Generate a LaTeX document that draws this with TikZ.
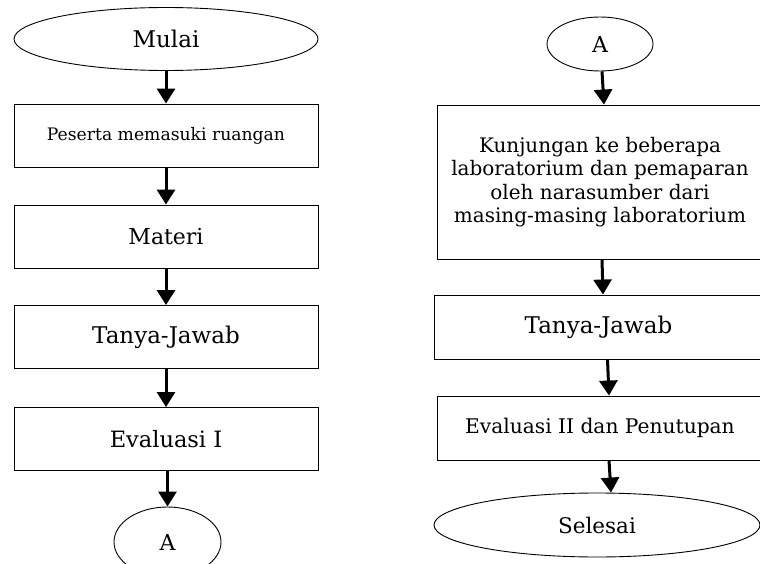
\documentclass[tikz,border=0pt]{standalone}
\usepackage{fontspec}
\setmainfont{DejaVu Serif}
\usetikzlibrary{shapes.geometric,arrows.meta}
\tikzset{
  box/.style={draw=black,line width=0.9pt,rectangle,inner sep=0pt,minimum height=63pt,align=center,font=\fontsize{23}{23.3}\selectfont},
  oval/.style={draw=black,line width=0.9pt,ellipse,inner sep=0pt,align=center,font=\fontsize{22}{23.3}\selectfont},
  arr/.style={line width=3pt,-{Triangle[width=18pt,length=15pt]}}
}
\begin{document}
\begin{tikzpicture}[x=1pt,y=-1pt]
\useasboundingbox (0,0) rectangle (760,564);
% left column
\node[oval,minimum width=304pt,minimum height=63pt,font=\fontsize{23}{23.3}\selectfont] (mulai) at (166,39) {Mulai};
\node[box,minimum width=304pt,font=\fontsize{17.2}{20}\selectfont] (p1) at (166,135.5) {Peserta memasuki ruangan};
\node[box,minimum width=304pt,font=\fontsize{22}{23.3}\selectfont] (p2) at (166,236.5) {Materi};
\node[box,minimum width=304pt] (p3) at (166,337) {Tanya-Jawab};
\node[box,minimum width=304pt,font=\fontsize{22.5}{23.3}\selectfont] (p4) at (166,439) {Evaluasi I};
\node[oval,minimum width=107pt,minimum height=70pt] (a1) at (167.5,542) {A};
\draw[arr] (mulai) -- (p1);
\draw[arr] (p1) -- (p2);
\draw[arr] (p2) -- (p3);
\draw[arr] (p3) -- (p4);
\draw[arr] (p4.south -| a1.north) -- (a1.north);
% right column
\node[oval,minimum width=106pt,minimum height=54pt] (a2) at (600,44) {A};
\node[box,minimum width=326pt,minimum height=154pt,font=\fontsize{20}{23.3}\selectfont] (k) at (600,182) {Kunjungan ke beberapa\\laboratorium dan pemaparan\\oleh narasumber dari\\masing-masing laboratorium};
\node[box,minimum width=329pt,minimum height=64pt] (tj) at (598.5,327) {Tanya-Jawab};
\node[box,minimum width=326pt,minimum height=64pt,font=\fontsize{20.2}{23}\selectfont] (e2) at (600,428) {Evaluasi II dan Penutupan};
\node[oval,minimum width=326pt,minimum height=64pt,font=\fontsize{21.5}{23.3}\selectfont] (sel) at (597,525) {Selesai};
\draw[arr] ([xshift=2pt]a2.south) -- ([xshift=4pt]k.north);
\draw[arr] ([xshift=2pt]k.south) -- ([xshift=4.5pt]tj.north);
\draw[arr] ([xshift=9pt]tj.south) -- ([xshift=9pt]e2.north);
\draw[arr] ([xshift=9pt]e2.south) -- ([xshift=14pt]sel.north);
\end{tikzpicture}
\end{document}
